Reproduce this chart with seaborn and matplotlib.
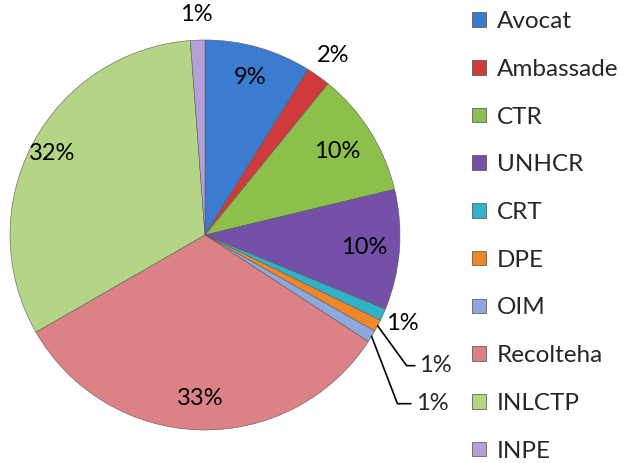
import numpy as np
import matplotlib.pyplot as plt
import seaborn as sns

# data (percent of total)
labels = ["Avocat", "Ambassade", "CTR", "UNHCR", "CRT", "DPE", "OIM",
          "Recolteha", "INLCTP", "INPE"]
values = [8.9, 2.0, 10.4, 10.0, 1.0, 1.0, 1.0, 32.6, 32.2, 1.2]
pct_text = ["9%", "2%", "10%", "10%", "1%", "1%", "1%", "33%", "32%", "1%"]

colors = ["#3b7bd0", "#d03a3c", "#8cc04a", "#7450a8", "#30b2c8",
          "#f0862a", "#8ea8dc", "#dc8286", "#b3d585", "#b4a0d6"]

sns.set_theme(style="white")
plt.rcParams["font.family"] = ["Lato", "DejaVu Sans"]
palette = sns.color_palette(colors)

fig = plt.figure(figsize=(6.22, 4.63), dpi=100)
ax = fig.add_axes([10 / 622, 33 / 463, 390 / 622, 390 / 463])

wedges, _ = ax.pie(values, colors=palette, startangle=90, counterclock=False,
                   radius=1.0,
                   wedgeprops=dict(edgecolor="#5a5a5a", linewidth=0.4))
ax.set_xlim(-1, 1)
ax.set_ylim(-1, 1)
ax.set_aspect("equal")
ax.axis("off")

# radial distance of each label (None -> leader line)
label_r = [0.84, 1.13, 0.80, 0.82, 1.11, None, None, 0.84, 0.89, 1.13]
leader_pos = {5: (1.10, -0.67), 6: (1.08, -0.865)}
leader_ang = {5: 126, 6: 111}

for i, w in enumerate(wedges):
    mid = np.deg2rad((w.theta1 + w.theta2) / 2)
    if label_r[i] is not None:
        r = label_r[i]
        ax.text(r * np.cos(mid), r * np.sin(mid), pct_text[i],
                ha="center", va="center", fontsize=17, color="black")
    else:
        ex, ey = np.cos(mid), np.sin(mid)
        ax.annotate(pct_text[i], xy=(ex, ey), xytext=leader_pos[i],
                    ha="left", va="center", fontsize=17,
                    arrowprops=dict(arrowstyle="-", color="black", lw=1.2,
                                    relpos=(0, 0.5), shrinkA=1, shrinkB=0,
                                    connectionstyle=f"angle,angleA=0,angleB={leader_ang[i]}"),
                    annotation_clip=False)

handles = [plt.Rectangle((0, 0), 1, 1, facecolor=c, edgecolor="#4a4a4a", lw=0.5)
           for c in palette]
fig.legend(handles, labels, loc="upper left", bbox_to_anchor=(459 / 622, 1.005),
           frameon=False, fontsize=17.5, handlelength=0.55, handleheight=0.55,
           handletextpad=0.45, labelspacing=1.1, borderpad=0.05)

fig.savefig("out.png", dpi=100)
